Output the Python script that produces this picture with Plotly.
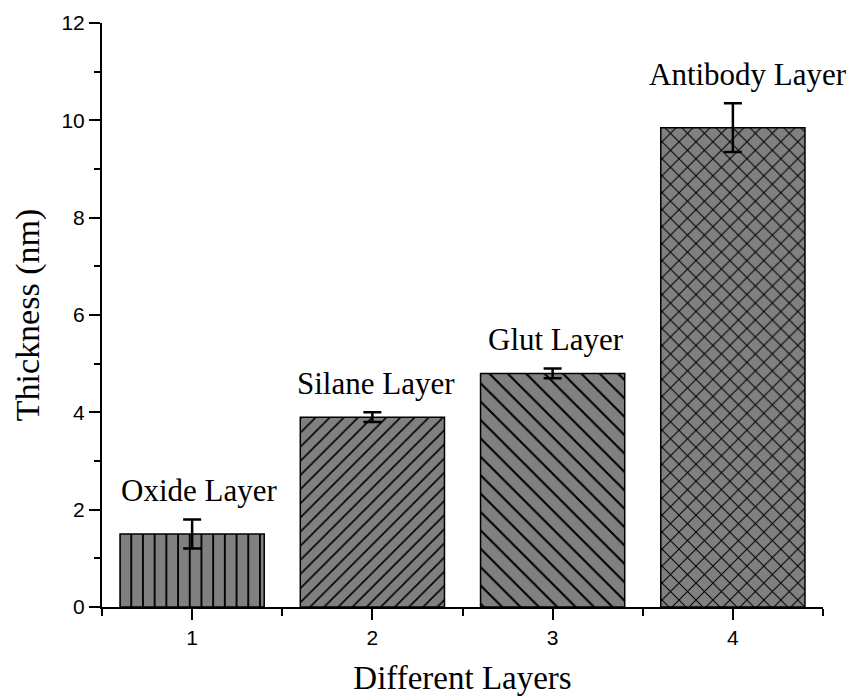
import plotly.graph_objects as go

# Layer thickness measurements
positions = [1, 2, 3, 4]
thickness = [1.5, 3.9, 4.8, 9.85]
thickness_err = [0.3, 0.1, 0.1, 0.5]
layer_names = ["Oxide Layer", "Silane Layer", "Glut Layer", "Antibody Layer"]
hatches = ["|", "/", "\\", "x"]
hatch_sizes = [11.7, 10, 13, 12]

serif = "Liberation Serif"
sans = "Liberation Sans"

fig = go.Figure()
fig.add_trace(go.Bar(
    x=positions,
    y=thickness,
    width=0.8,
    marker=dict(
        color="#808080",
        line=dict(color="black", width=1.5),
        pattern=dict(shape=hatches, size=hatch_sizes, solidity=0.16,
                     fgcolor="black", bgcolor="#808080", fillmode="replace"),
    ),
    error_y=dict(type="data", array=thickness_err, visible=True,
                 color="black", thickness=2.5, width=9),
    showlegend=False,
))

label_dx = [7, 4, 3, 15]
for xv, yv, ev, name, dx in zip(positions, thickness, thickness_err, layer_names, label_dx):
    fig.add_annotation(x=xv, y=yv + ev, text=name, showarrow=False,
                       xanchor="center", yanchor="middle", yshift=29, xshift=dx,
                       font=dict(family=serif, size=31, color="black"))

fig.update_layout(
    width=854, height=696,
    margin=dict(l=102, r=31, t=23, b=89),
    plot_bgcolor="white", paper_bgcolor="white",
    bargap=0.2,
)
fig.update_xaxes(
    range=[0.5, 4.5], tickvals=positions, ticktext=[str(p) for p in positions],
    automargin=False,
    showline=True, linecolor="black", linewidth=2, showgrid=False, zeroline=False,
    ticks="outside", ticklen=11, tickwidth=2, tickcolor="black",
    tickfont=dict(family=sans, size=21, color="black"),
    minor=dict(tickvals=[0.5, 1.5, 2.5, 3.5, 4.5], ticks="outside", ticklen=7,
               tickwidth=2, tickcolor="black", showgrid=False),
    title=dict(text="Different Layers", font=dict(family=serif, size=33, color="black"),
               standoff=20),
)
fig.update_yaxes(
    range=[0, 12], dtick=2, tick0=0,
    automargin=False,
    showline=True, linecolor="black", linewidth=2, showgrid=False, zeroline=False,
    ticks="outside", ticklen=11, tickwidth=2, tickcolor="black",
    tickfont=dict(family=sans, size=21, color="black"),
    minor=dict(dtick=1, ticks="outside", ticklen=6, tickwidth=2,
               tickcolor="black", showgrid=False),
    title=dict(text="Thickness (nm)", font=dict(family=serif, size=34, color="black"),
               standoff=12),
)

fig.write_html("out.html")
